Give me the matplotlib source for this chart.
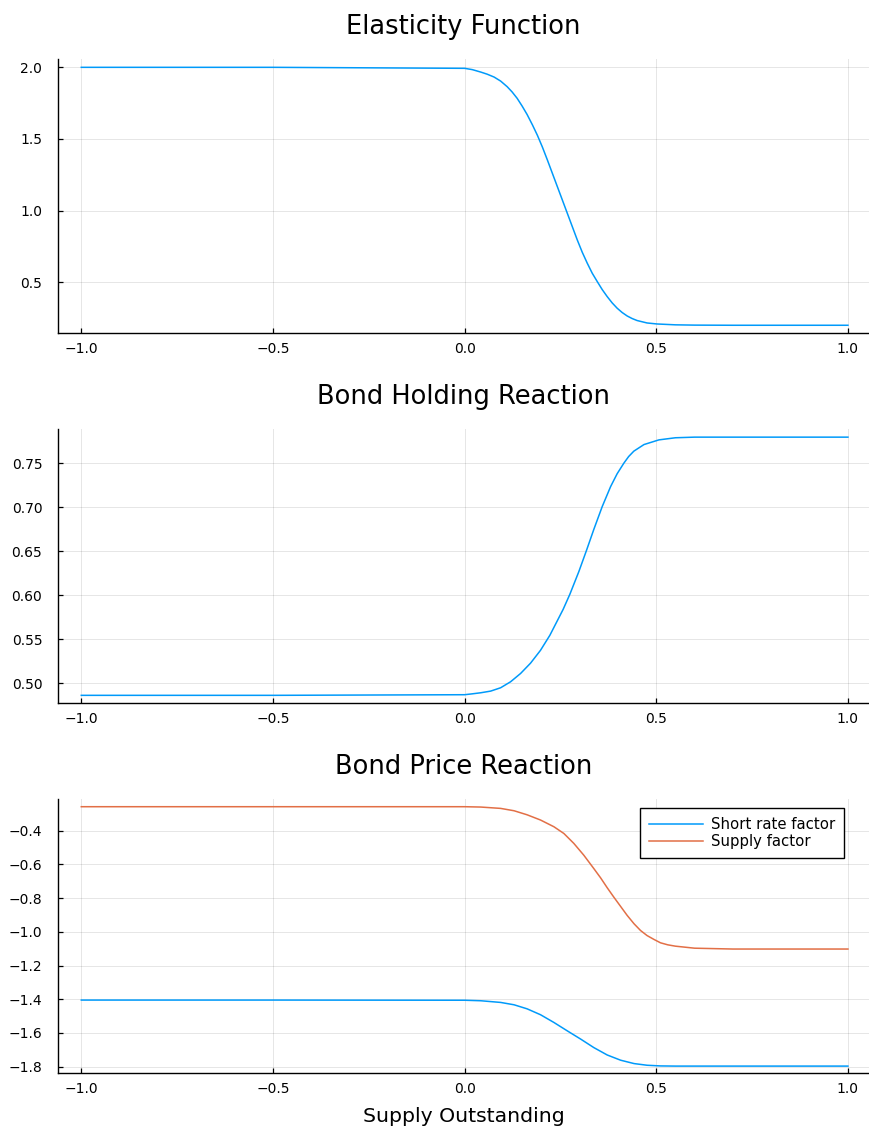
import matplotlib
matplotlib.use("Agg")
import matplotlib.pyplot as plt

# ---------------- data ----------------
x_elast = [-1.0, -0.5, 0.0, 0.02, 0.042, 0.059, 0.077, 0.094, 0.111, 0.124, 0.137,
           0.150, 0.163, 0.177, 0.190, 0.203, 0.216, 0.229, 0.242, 0.255, 0.268,
           0.281, 0.294, 0.307, 0.320, 0.333, 0.346, 0.359, 0.372, 0.385, 0.398,
           0.411, 0.424, 0.437, 0.450, 0.476, 0.502, 0.55, 0.6, 0.7, 1.0]
y_elast = [2.0, 2.0, 1.993, 1.984, 1.967, 1.952, 1.932, 1.904, 1.865, 1.828, 1.784,
           1.730, 1.671, 1.598, 1.525, 1.443, 1.353, 1.260, 1.167, 1.074, 0.981,
           0.888, 0.795, 0.709, 0.633, 0.563, 0.505, 0.449, 0.400, 0.356, 0.319,
           0.289, 0.265, 0.247, 0.233, 0.216, 0.209, 0.203, 0.201, 0.2, 0.2]

x_hold = [-1.0, -0.5, 0.0, 0.02, 0.042, 0.068, 0.094, 0.120, 0.146, 0.172, 0.198,
          0.2225, 0.257, 0.2747, 0.298, 0.318, 0.337, 0.359, 0.381, 0.398, 0.4155,
          0.428, 0.4415, 0.468, 0.507, 0.55, 0.6, 1.0]
y_hold = [0.4865, 0.4865, 0.4872, 0.4882, 0.4894, 0.4913, 0.4951, 0.5019, 0.5113,
          0.5230, 0.5376, 0.5547, 0.584, 0.6013, 0.6269, 0.651, 0.6747, 0.7007,
          0.7235, 0.738, 0.750, 0.7575, 0.7636, 0.7711, 0.7764, 0.7788, 0.7795, 0.7795]

x_short = [-1.0, -0.5, 0.0, 0.042, 0.094, 0.129, 0.163, 0.198, 0.233, 0.268, 0.303,
           0.337, 0.372, 0.407, 0.442, 0.476, 0.511, 0.55, 0.6, 1.0]
y_short = [-1.405, -1.405, -1.406, -1.409, -1.419, -1.433, -1.457, -1.492, -1.538,
           -1.588, -1.637, -1.687, -1.731, -1.762, -1.782, -1.792, -1.796, -1.797,
           -1.797, -1.797]

x_supply = [-1.0, -0.5, 0.0, 0.042, 0.094, 0.129, 0.163, 0.198, 0.233, 0.259, 0.285,
            0.311, 0.337, 0.355, 0.372, 0.389, 0.407, 0.424, 0.442, 0.459, 0.476,
            0.494, 0.511, 0.53, 0.55, 0.6, 0.7, 1.0]
y_supply = [-0.257, -0.257, -0.257, -0.259, -0.267, -0.281, -0.305, -0.336, -0.376,
            -0.416, -0.475, -0.545, -0.624, -0.680, -0.738, -0.793, -0.849, -0.902,
            -0.952, -0.992, -1.022, -1.045, -1.065, -1.077, -1.085, -1.097, -1.102,
            -1.102]

titles = ["Elasticity Function", "Bond Holding Reaction", "Bond Price Reaction"]
xticks = [-1.0, -0.5, 0.0, 0.5, 1.0]
yticks1 = [0.5, 1.0, 1.5, 2.0]
yticks2 = [0.50, 0.55, 0.60, 0.65, 0.70, 0.75]
yticks3 = [-1.8, -1.6, -1.4, -1.2, -1.0, -0.8, -0.6, -0.4]
legend_labels = ["Short rate factor", "Supply factor"]
xlabel = "Supply Outstanding"

BLUE = "#009AFA"
ORANGE = "#E26F46"

# ---------------- figure ----------------
W, H = 870, 1127
fig = plt.figure(figsize=(W / 100, H / 100), dpi=100)

def px_axes(left, right, top, bottom):
    return fig.add_axes([left / W, 1 - bottom / H, (right - left) / W, (bottom - top) / H])

ax1 = px_axes(58.3, 869, 59.3, 333)
ax2 = px_axes(58.3, 869, 429.3, 703)
ax3 = px_axes(58.3, 869, 799.3, 1073)

def style(ax, title, yticks, ylim, yfmt):
    ax.set_xlim(-1.0 - 0.06, 1.0 + 0.055)
    ax.set_ylim(*ylim)
    ax.set_xticks(xticks)
    ax.set_xticklabels([("%.1f" % v).replace("-", "\u2212") for v in xticks])
    ax.set_yticks(yticks)
    ax.set_yticklabels([(yfmt % v).replace("-", "\u2212") for v in yticks])
    for s in ["top", "right"]:
        ax.spines[s].set_visible(False)
    for s in ["left", "bottom"]:
        ax.spines[s].set_linewidth(1.0)
        ax.spines[s].set_color("#000000")
    ax.tick_params(direction="in", length=3.6, width=0.9, labelsize=10, colors="#000000")
    ax.tick_params(axis="x", pad=6.5)
    ax.tick_params(axis="y", pad=11.5)
    ax.grid(True, color="#000000", alpha=0.1, linewidth=0.7)
    ax.set_axisbelow(True)
    ax.set_title(title, fontsize=18.5, pad=18)

style(ax1, titles[0], yticks1, (0.146, 2.056), "%.1f")
ax1.plot(x_elast, y_elast, color=BLUE, linewidth=1.1)

style(ax2, titles[1], yticks2, (0.4778, 0.7884), "%.2f")
ax2.plot(x_hold, y_hold, color=BLUE, linewidth=1.1)

style(ax3, titles[2], yticks3, (-1.838, -0.213), "%.1f")
ax3.plot(x_short, y_short, color=BLUE, linewidth=1.1, label=legend_labels[0])
ax3.plot(x_supply, y_supply, color=ORANGE, linewidth=1.1, label=legend_labels[1])
ax3.set_xlabel(xlabel, fontsize=14.7, labelpad=8)

leg = ax3.legend(loc="upper right", bbox_to_anchor=(1 - 24.7 / 810.7, 1 - 9 / 273.7),
                 fontsize=10.7, frameon=True, fancybox=False, framealpha=1.0,
                 edgecolor="#000000", handlelength=3.65, handletextpad=0.56,
                 labelspacing=0.12, borderpad=0.6, borderaxespad=0.0)
leg.get_frame().set_linewidth(1.0)

fig.savefig("out.png", dpi=100)
